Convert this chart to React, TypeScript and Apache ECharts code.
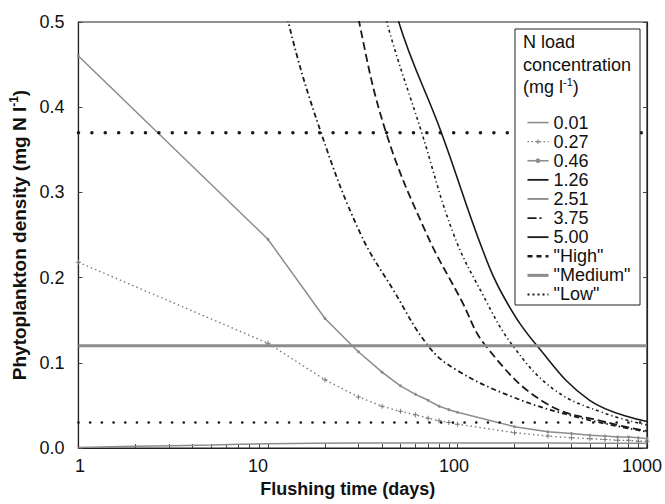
import React, { useEffect, useRef } from "react";
import * as echarts from "echarts";

// Flushing time sample points (days) for the low-load runs
const flushingDays = [1, 10, 20, 30, 40, 50, 60, 70, 80, 90, 100, 200, 300, 400, 500, 600, 700, 800, 900, 1000];

// Phytoplankton density (mg N l-1), N load 0.27 and 0.46 (sampled at flushingDays)
const load027 = [0.218, 0.123, 0.08, 0.06, 0.049, 0.043, 0.039, 0.035, 0.032, 0.03, 0.028, 0.018, 0.014, 0.012, 0.011, 0.01, 0.009, 0.009, 0.008, 0.008];
const load046 = [0.46, 0.245, 0.152, 0.113, 0.089, 0.073, 0.063, 0.056, 0.049, 0.045, 0.042, 0.025, 0.019, 0.017, 0.015, 0.014, 0.013, 0.013, 0.012, 0.011];

// N load 0.01
const load001Days = [1, 2, 5, 10, 30, 100, 300, 1000];
const load001 = [0.0005, 0.002, 0.0035, 0.005, 0.006, 0.006, 0.0058, 0.0055];

// N load 1.26
const load126Days = [12, 12.8, 19, 30.7, 46, 70, 98, 195, 432, 1000];
const load126 = [0.55, 0.5, 0.371, 0.252, 0.185, 0.12, 0.092, 0.06, 0.036, 0.019];

// N load 2.51
const load251Days = [28, 30.3, 41.9, 68.5, 104.5, 140.8, 290, 647, 1000];
const load251 = [0.56, 0.5, 0.371, 0.252, 0.174, 0.12, 0.053, 0.029, 0.02];

// N load 3.75
const load375Days = [39, 42.4, 64.6, 95, 136, 196, 326, 594, 1000];
const load375 = [0.55, 0.5, 0.371, 0.252, 0.18, 0.12, 0.068, 0.041, 0.027];

// N load 5.00
const load500Days = [45, 49, 82, 136, 179, 263, 498, 1000];
const load500 = [0.56, 0.5, 0.371, 0.232, 0.174, 0.12, 0.056, 0.031];

// Reference levels
const levelRange = [1, 1000];
const highLevel = 0.37;
const mediumLevel = 0.12;
const lowLevel = 0.03;

// Axis ticks / labels
const xTickLabels = [1, 10, 100, 1000];
const xMinorTicks = [2, 3, 4, 5, 6, 7, 8, 9, 10, 20, 30, 40, 50, 60, 70, 80, 90, 100, 200, 300, 400, 500, 600, 700, 800, 900];
const yTickLabels = ["0.0", "0.1", "0.2", "0.3", "0.4", "0.5"];

const FONT = '"Liberation Sans", Arial, Helvetica, sans-serif';
const BLACK = "#1a1a1a";
const GRAY = "#8c8c8c";

export default function App() {
  const ref = useRef<HTMLDivElement>(null);

  useEffect(() => {
    const chart = echarts.init(ref.current!, null, { renderer: "svg" });
    const zip = (xs: number[], ys: number[]) => xs.map((x, i) => [x, ys[i]]);
    const level = (v: number) => levelRange.map((x) => [x, v]);

    const mk = (name: string, data: any[], color: string, width: number, type: any, extra: any = {}) => ({
      type: "line",
      name,
      data,
      symbol: "none",
      clip: true,
      silent: true,
      lineStyle: { color, width, type, ...(extra.lineStyle || {}) },
      itemStyle: { color },
      ...(extra.rest || {}),
    });

    const series = [
      mk("0.01", zip(load001Days, load001), GRAY, 1.5, "solid", { rest: { smooth: 0.3 } }),
      mk("0.27", zip(flushingDays, load027), "#7a7a7a", 1.4, [1.5, 3], {
        rest: {
          symbol: "path://M4,0H6V4H10V6H6V10H4V6H0V4H4Z",
          symbolSize: 5,
          showSymbol: true,
        },
      }),
      mk("0.46", zip(flushingDays, load046), GRAY, 1.5, "solid", {
        rest: { symbol: "circle", symbolSize: 3, showSymbol: true },
      }),
      mk("1.26", zip(load126Days, load126), BLACK, 1.8, [5, 3, 1.5, 3], { rest: { smooth: 0.4 } }),
      mk("2.51", zip(load251Days, load251), BLACK, 1.8, [8, 4], { rest: { smooth: 0.4 } }),
      mk("3.75", zip(load375Days, load375), BLACK, 1.6, [3, 3, 1.2, 3], { rest: { smooth: 0.4 } }),
      mk("5.00", zip(load500Days, load500), BLACK, 1.6, "solid", { rest: { smooth: 0.4 } }),
      mk('"High"', level(highLevel), BLACK, 3.5, [0.1, 13.3], { lineStyle: { cap: "round" } }),
      mk('"Medium"', level(mediumLevel), GRAY, 3, "solid"),
      mk('"Low"', level(lowLevel), BLACK, 2.6, [0.1, 11.6], { lineStyle: { cap: "round" } }),
    ];

    const legendOverrides: Record<string, any> = {
      "0.01": { lineStyle: { width: 1.6 } },
      "0.27": { lineStyle: { width: 1.4, type: [1.5, 2.5] } },
      "0.46": { lineStyle: { width: 1.6 } },
      "1.26": { lineStyle: { width: 1.8, type: "solid" } },
      "2.51": { lineStyle: { width: 1.8, color: "#888", type: "solid" } },
      "3.75": { lineStyle: { width: 1.8, type: [9, 3, 2, 7] } },
      "5.00": { lineStyle: { width: 1.8 } },
      '"High"': { lineStyle: { width: 2.4, type: [5, 4], cap: "butt" } },
      '"Medium"': { lineStyle: { width: 3 } },
      '"Low"': { lineStyle: { width: 2, type: [2, 3], cap: "butt" } },
    };
    const withMarker = new Set(["0.27", "0.46"]);

    const labelShift: Record<string, string> = { "1": "p1", "10": "p10", "100": "p100", "1000": "p1000" };
    const labelText = { fontSize: 18, color: "#111", fontFamily: FONT };

    const option: any = {
      animation: false,
      backgroundColor: "#fff",
      grid: {
        left: 78,
        top: 22,
        right: 12,
        bottom: 56,
        show: true,
        borderColor: "#222",
        borderWidth: 1.2,
      },
      xAxis: {
        type: "log",
        logBase: 10,
        min: 1,
        max: 1000,
        axisLine: { lineStyle: { color: "#222", width: 1.2 } },
        axisTick: {
          inside: true,
          length: 4,
          customValues: xMinorTicks,
          lineStyle: { color: "#444" },
        },
        axisLabel: {
          customValues: xTickLabels,
          formatter: (v: number) => {
            const s = String(Math.round(v));
            return `{${labelShift[s] || "p1"}|${s}}`;
          },
          ...labelText,
          margin: 9,
          rich: {
            p1: { ...labelText, padding: [0, 0, 0, 3] },
            p10: { ...labelText, padding: [0, 20, 0, 0] },
            p100: { ...labelText, padding: [0, 7, 0, 0] },
            p1000: { ...labelText, padding: [0, 10, 0, 0] },
          },
        },
        splitLine: { show: false },
        name: "Flushing time (days)",
        nameLocation: "middle",
        nameGap: 32,
        nameTextStyle: {
          fontSize: 18,
          fontWeight: "bold",
          color: "#111",
          fontFamily: FONT,
          padding: [0, 30, 0, 0],
        },
      },
      yAxis: [
        {
          type: "value",
          min: 0,
          max: 0.5,
          interval: 0.1,
          axisLine: { show: true, lineStyle: { color: "#222", width: 1.2 } },
          axisTick: { show: true, inside: true, length: 4, lineStyle: { color: "#444" } },
          axisLabel: {
            formatter: (v: number) => yTickLabels[Math.round(v * 10)],
            ...labelText,
            margin: 14,
          },
          splitLine: { show: false },
          name: "{a|Phytoplankton density (mg N l}{s|-1}{a|)}",
          nameLocation: "middle",
          nameRotate: 90,
          nameGap: 46,
          nameTextStyle: {
            rich: {
              a: { fontSize: 19, fontWeight: "bold", color: "#111", fontFamily: FONT, lineHeight: 22 },
              s: { fontSize: 12, fontWeight: "bold", color: "#111", fontFamily: FONT, lineHeight: 11, verticalAlign: "top" },
            },
          },
        },
        {
          type: "value",
          min: 0,
          max: 0.5,
          interval: 0.1,
          position: "right",
          axisLine: { show: true, lineStyle: { color: "#222", width: 1.2 } },
          axisTick: { show: true, inside: true, length: 4, lineStyle: { color: "#444" } },
          axisLabel: { show: false },
          splitLine: { show: false },
        },
      ],
      legend: {
        orient: "vertical",
        left: 521,
        top: 108,
        itemWidth: 21,
        itemHeight: 6,
        itemGap: 0,
        z: 20,
        textStyle: { fontSize: 18, color: "#111", fontFamily: FONT, lineHeight: 19.1 },
        data: series.map((s) => ({
          name: s.name,
          ...(legendOverrides[s.name] || {}),
          itemStyle: withMarker.has(s.name) ? {} : { opacity: 0 },
        })),
      },
      graphic: [
        {
          type: "rect",
          z: 10,
          shape: { x: 515, y: 29, width: 125, height: 276 },
          style: { fill: "#fff", stroke: "#222", lineWidth: 1 },
        },
        {
          type: "text",
          z: 21,
          x: 523,
          y: 33,
          style: { text: "N load", fontSize: 18, fontFamily: FONT, fill: "#111", verticalAlign: "top" },
        },
        {
          type: "text",
          z: 21,
          x: 523,
          y: 56,
          style: { text: "concentration", fontSize: 18, fontFamily: FONT, fill: "#111", verticalAlign: "top" },
        },
        {
          type: "text",
          z: 21,
          x: 523,
          y: 76,
          style: {
            text: "{a|(mg l}{s|-1}{a|)}",
            verticalAlign: "top",
            rich: {
              a: { fontSize: 18, fontFamily: FONT, fill: "#111", lineHeight: 22 },
              s: { fontSize: 11, fontFamily: FONT, fill: "#111", lineHeight: 11, verticalAlign: "top" },
            },
          },
        },
      ],
      series,
    };

    chart.setOption(option);
    return () => chart.dispose();
  }, []);

  return (
    <div
      ref={ref}
      style={{ position: "fixed", left: 0, top: 0, width: 665, height: 504 }}
    />
  );
}
